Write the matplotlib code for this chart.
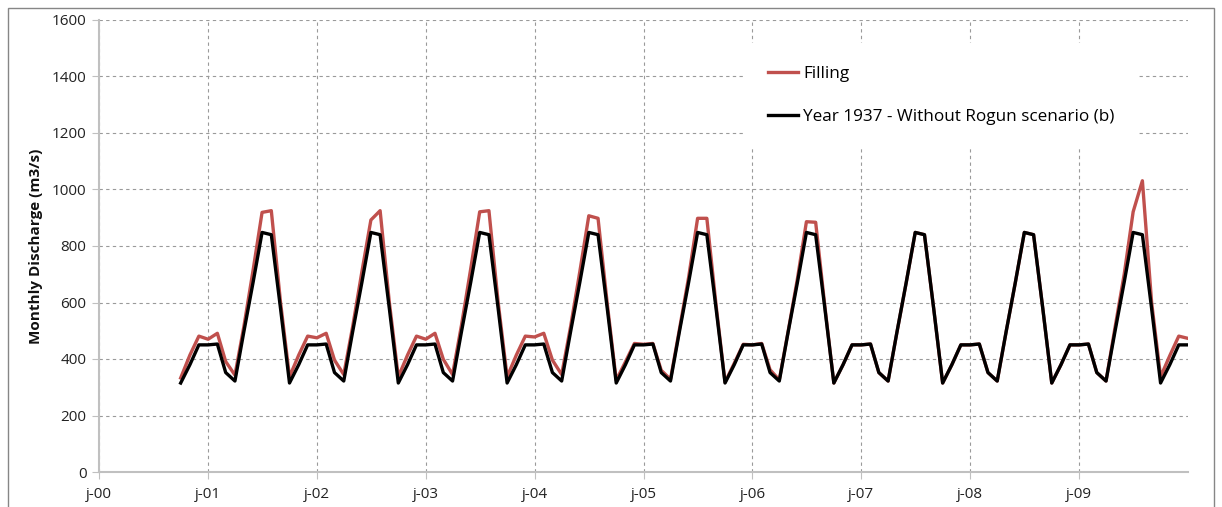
import numpy as np
import pandas as pd
import matplotlib.pyplot as plt
import matplotlib.dates as mdates
from matplotlib.patches import Rectangle

plt.rcParams['font.family'] = ['Open Sans', 'DejaVu Sans']

# monthly discharge, one row per water year (Oct..Sep), last row Oct 2009 - Jan 2010
without_rogun = [
    315, 380, 450, 450, 453, 352, 322, 497, 672, 848, 840, 578,   # 2000-01
    315, 380, 450, 450, 453, 352, 322, 497, 672, 848, 840, 578,   # 2001-02
    315, 380, 450, 450, 453, 352, 322, 497, 672, 848, 840, 578,   # 2002-03
    315, 380, 450, 450, 453, 352, 322, 497, 672, 848, 840, 578,   # 2003-04
    315, 380, 450, 450, 453, 352, 322, 497, 672, 848, 840, 578,   # 2004-05
    315, 380, 450, 450, 453, 352, 322, 497, 672, 848, 840, 578,   # 2005-06
    315, 380, 450, 450, 453, 352, 322, 497, 672, 848, 840, 578,   # 2006-07
    315, 380, 450, 450, 453, 352, 322, 497, 672, 848, 840, 578,   # 2007-08
    315, 380, 450, 450, 453, 352, 322, 497, 672, 848, 840, 578,   # 2008-09
    315, 380, 450, 450,                                           # 2009-10
]
filling = [
    333, 414, 481, 470, 491, 391, 343, 515, 715, 919, 925, 600,
    337, 414, 481, 475, 491, 396, 345, 515, 710, 892, 925, 600,
    337, 414, 481, 470, 491, 399, 345, 520, 720, 921, 925, 600,
    337, 414, 481, 478, 491, 396, 345, 515, 710, 907, 898, 595,
    325, 390, 455, 452, 455, 360, 328, 505, 690, 898, 898, 590,
    318, 385, 452, 450, 455, 362, 326, 500, 685, 886, 884, 585,
    315, 380, 450, 450, 453, 352, 322, 497, 672, 848, 840, 578,
    315, 380, 450, 450, 453, 352, 322, 497, 672, 848, 840, 578,
    315, 380, 450, 450, 453, 352, 322, 510, 700, 921, 1031, 600,
    337, 412, 481, 473,
]
months = pd.date_range('2000-10-01', periods=len(filling), freq='MS')
tick_dates = pd.date_range('2000-01-01', '2009-01-01', freq='YS')
tick_labels = ['j-00', 'j-01', 'j-02', 'j-03', 'j-04', 'j-05', 'j-06', 'j-07', 'j-08', 'j-09']

fig = plt.figure(figsize=(12.22, 5.07), dpi=100)
ax = fig.add_axes([99/1222, 1-472/507, (1188-99)/1222, (472-20)/507])

# outer chart frame
fig.patches.append(Rectangle((8/1222, -0.1), (1214-8)/1222, 1.1-8/507, transform=fig.transFigure,
                             fill=False, edgecolor='#868686', linewidth=1.0))

ax.plot(months, filling, color='#C0504D', linewidth=2.4, label='Filling', zorder=3)
ax.plot(months, without_rogun, color='black', linewidth=2.4,
        label='Year 1937 - Without Rogun scenario (b)', zorder=4)

ax.set_ylim(0, 1600)
ax.set_yticks(range(0, 1601, 200))
ax.set_xlim(pd.Timestamp('2000-01-01'), pd.Timestamp('2010-01-01'))
ax.set_xticks(tick_dates)
ax.set_xticklabels(tick_labels)

ax.grid(True, color='#9a9a9a', linestyle=(0, (3, 3)), linewidth=0.8)
for s in ['top', 'right']:
    ax.spines[s].set_visible(False)
for s in ['left', 'bottom']:
    ax.spines[s].set_color('#c0c0c0')
    ax.spines[s].set_linewidth(1.5)
ax.tick_params(axis='both', colors='#c0c0c0', labelcolor='#222222', labelsize=11, length=5)
ax.tick_params(axis='x', pad=6)
ax.tick_params(axis='y', pad=4)

ax.set_ylabel('Monthly Discharge (m3/s)', fontsize=11, fontweight='bold', color='#111111', labelpad=6)

leg = ax.legend(loc='upper left', bbox_to_anchor=((745-99)/1089, (472-43)/452), frameon=True,
                fontsize=12.3, handlelength=1.75, handletextpad=0.3, labelspacing=1.6,
                borderpad=1.35, borderaxespad=0)
leg.get_frame().set_edgecolor('white')
leg.get_frame().set_facecolor('white')
leg.get_frame().set_alpha(1)
leg.get_frame().set_boxstyle('square', pad=0)

fig.savefig('out.png', dpi=100)
